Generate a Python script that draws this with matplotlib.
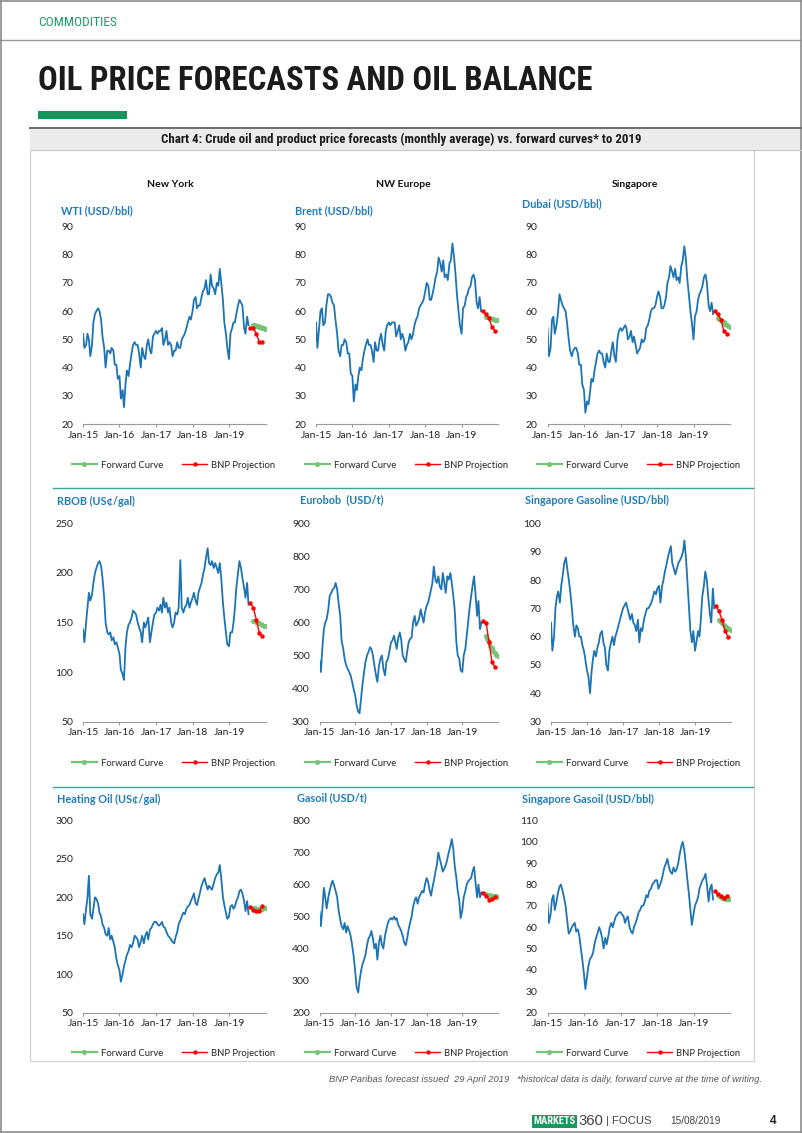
import matplotlib
matplotlib.use('Agg')
import matplotlib.pyplot as plt
from matplotlib.lines import Line2D
from matplotlib.patches import Rectangle
from matplotlib import font_manager as fm
import pandas as pd

# ---------------- data ----------------
hist_dates = pd.date_range('2015-01-01', '2019-07-16', freq='SMS')   # 110 semi-monthly points
bnp_dates = pd.to_datetime(['2019-08-01', '2019-09-01', '2019-10-01', '2019-11-01', '2019-12-01'])
fwd_dates = pd.to_datetime(['2019-09-01', '2019-09-15', '2019-10-01', '2019-10-15', '2019-11-01',
                            '2019-11-15', '2019-12-01', '2019-12-15', '2019-12-31'])

wti = [52, 47, 48, 52, 50, 44, 48, 56, 59, 60, 61, 60, 57, 51, 47, 40, 46, 46, 45, 47, 46, 41, 41, 36,
       37, 29, 32, 26, 34, 39, 37, 41, 45, 48, 49, 48, 48, 45, 40, 47, 44, 43, 48, 50, 46, 45, 51, 52,
       53, 52, 53, 53, 54, 48, 50, 53, 48, 49, 48, 44, 46, 46, 49, 47, 47, 50, 51, 52, 54, 56, 58, 57,
       60, 64, 65, 61, 62, 62, 65, 67, 68, 71, 66, 66, 73, 69, 68, 66, 70, 69, 75, 70, 64, 56, 52, 47,
       43, 52, 54, 56, 56, 59, 62, 64, 63, 62, 54, 52, 58, 55]
wti_fwd = [55.2, 55.0, 54.9, 54.7, 54.5, 54.3, 54.1, 54.0, 53.8]
wti_bnp = [54, 54, 52, 49, 49]

brent = [56, 47, 54, 60, 61, 55, 56, 62, 66, 66, 65, 63, 62, 57, 52, 46, 44, 48, 48, 50, 49, 45, 45, 38,
         37, 28, 34, 32, 37, 40, 39, 43, 46, 48, 50, 48, 48, 46, 42, 49, 46, 46, 50, 52, 48, 46, 53, 55,
         56, 55, 56, 56, 56, 51, 53, 55, 50, 52, 50, 46, 48, 49, 52, 50, 52, 55, 57, 58, 61, 62, 63, 64,
         67, 70, 69, 64, 64, 66, 69, 72, 74, 79, 77, 74, 78, 72, 73, 71, 77, 78, 84, 80, 73, 66, 60, 55,
         52, 61, 62, 65, 66, 68, 69, 72, 73, 71, 63, 61, 65, 60]
brent_fwd = [58.0, 57.8, 57.6, 57.4, 57.2, 57.1, 57.0, 57.0, 57.0]
brent_bnp = [60, 59, 57.5, 54.5, 53]

dubai = [54, 44, 47, 57, 58, 52, 55, 59, 66, 64, 62, 61, 60, 56, 50, 46, 44, 46, 47, 47, 45, 41, 41, 34,
         32, 24, 28, 27, 31, 36, 35, 39, 42, 45, 46, 45, 45, 42, 40, 45, 42, 42, 46, 49, 44, 42, 50, 53,
         54, 53, 54, 55, 54, 50, 51, 53, 49, 51, 48, 45, 46, 47, 50, 49, 50, 54, 55, 57, 60, 61, 61, 62,
         65, 67, 65, 61, 61, 62, 65, 70, 72, 76, 74, 72, 75, 71, 72, 70, 76, 78, 83, 79, 71, 66, 60, 56,
         50, 58, 60, 64, 66, 67, 69, 72, 73, 70, 62, 60, 63, 59]
dubai_fwd = [57.5, 57.2, 56.8, 56.4, 56.0, 55.6, 55.2, 54.8, 54.5]
dubai_bnp = [60, 59, 57, 53, 52]

rbob = [143, 130, 150, 165, 180, 172, 178, 190, 200, 205, 210, 212, 207, 195, 175, 150, 140, 138, 140, 132, 135, 128, 130, 125,
        118, 102, 98, 92, 125, 140, 148, 150, 155, 162, 160, 158, 150, 145, 140, 130, 150, 145, 150, 155, 130, 140, 150, 158,
        160, 165, 162, 168, 160, 175, 165, 170, 160, 165, 150, 145, 150, 160, 158, 165, 213, 165, 160, 165, 168, 175, 165, 170,
        175, 180, 172, 168, 180, 185, 190, 198, 205, 215, 225, 210, 208, 212, 205, 210, 205, 200, 210, 195, 170, 155, 140, 128,
        126, 140, 140, 150, 165, 185, 200, 212, 205, 195, 185, 175, 190, 168]
rbob_fwd = [152, 151.5, 151, 150, 149, 148, 147, 146, 146]
rbob_bnp = [170, 165, 153, 139, 136]

eurobob = [485, 450, 530, 580, 600, 610, 640, 680, 690, 700, 705, 720, 700, 660, 620, 545, 520, 490, 470, 460, 450, 440, 420, 400,
           380, 350, 330, 325, 370, 410, 450, 480, 500, 510, 525, 520, 500, 470, 440, 420, 470, 490, 500, 460, 440, 480, 490, 510,
           540, 545, 560, 540, 520, 550, 570, 550, 500, 490, 480, 510, 540, 550, 555, 600, 620, 590, 600, 610, 640, 620, 600, 630,
           650, 660, 680, 700, 720, 770, 730, 720, 740, 710, 700, 750, 720, 690, 740, 730, 750, 720, 680, 640, 540, 500, 490, 455,
           450, 500, 520, 560, 600, 640, 680, 710, 740, 690, 620, 665, 580, 600]
eurobob_fwd = [560, 550, 540, 530, 522, 515, 508, 503, 500]
eurobob_bnp = [605, 600, 540, 480, 465]

sg_gasoline = [65, 55, 60, 70, 74, 76, 72, 78, 82, 86, 88, 84, 80, 76, 70, 64, 60, 64, 63, 60, 60, 57, 55, 52,
               48, 46, 40, 47, 52, 55, 53, 56, 58, 61, 62, 58, 56, 50, 48, 55, 58, 60, 57, 60, 62, 64, 66, 68,
               70, 71, 72, 70, 68, 66, 68, 65, 64, 62, 66, 58, 63, 62, 66, 68, 70, 70, 71, 72, 74, 76, 75, 77,
               78, 72, 78, 80, 83, 85, 88, 90, 92, 86, 84, 82, 84, 86, 87, 88, 90, 94, 88, 80, 70, 62, 58, 62,
               55, 58, 62, 60, 66, 74, 78, 83, 80, 74, 68, 65, 77, 70]
sg_gasoline_fwd = [66.0, 65.6, 65.0, 64.4, 63.8, 63.3, 62.9, 62.6, 62.3]
sg_gasoline_bnp = [71, 69, 66, 62, 60]

heating_oil = [178, 165, 185, 200, 228, 178, 172, 185, 200, 198, 192, 180, 175, 165, 160, 152, 150, 160, 145, 150, 142, 135, 120, 112,
               105, 90, 100, 110, 118, 125, 130, 138, 135, 140, 150, 148, 145, 135, 142, 150, 140, 150, 155, 145, 158, 160, 165, 168,
               168, 165, 163, 165, 168, 162, 160, 155, 150, 148, 145, 142, 140, 148, 155, 165, 170, 175, 180, 178, 185, 188, 190, 195,
               200, 205, 192, 190, 198, 205, 215, 220, 225, 218, 210, 215, 212, 210, 218, 225, 230, 232, 242, 225, 200, 190, 180, 172,
               175, 188, 190, 185, 188, 195, 200, 208, 210, 205, 195, 182, 195, 178]
heating_oil_fwd = [186, 185.5, 185, 184.5, 184.5, 185, 185, 185.5, 186]
heating_oil_bnp = [187, 184, 182, 182, 189]

gasoil = [515, 470, 530, 590, 560, 525, 560, 580, 600, 612, 595, 580, 560, 520, 490, 470, 460, 480, 450, 470, 455, 440, 410, 380,
          330, 280, 262, 300, 330, 350, 365, 380, 410, 430, 440, 455, 430, 400, 415, 365, 420, 440, 410, 400, 440, 460, 480, 490,
          495, 490, 500, 490, 495, 475, 465, 455, 440, 420, 410, 430, 460, 480, 500, 530, 550, 560, 540, 560, 570, 580, 575, 600,
          620, 610, 580, 565, 590, 610, 640, 660, 700, 680, 660, 640, 650, 660, 680, 700, 720, 742, 710, 660, 620, 580, 550, 495,
          520, 560, 580, 600, 610, 615, 620, 640, 655, 610, 560, 600, 560, 575]
gasoil_fwd = [570, 568, 567, 566, 565, 565, 564, 563, 562]
gasoil_bnp = [575, 565, 553, 555, 562]

sg_gasoil = [71, 62, 66, 73, 75, 68, 72, 76, 79, 80, 77, 74, 70, 64, 57, 58, 60, 61, 62, 58, 59, 56, 50, 45,
             38, 31, 37, 42, 45, 46, 48, 52, 55, 57, 60, 58, 55, 50, 55, 52, 56, 60, 62, 60, 63, 65, 66, 67,
             67, 66, 65, 62, 64, 65, 60, 58, 57, 60, 62, 64, 67, 68, 70, 70, 72, 75, 74, 77, 78, 80, 81, 82,
             82, 78, 80, 82, 85, 88, 90, 92, 88, 86, 85, 88, 86, 87, 90, 94, 98, 100, 96, 90, 82, 76, 68, 61,
             66, 70, 72, 74, 78, 80, 82, 83, 85, 80, 72, 78, 80, 73]
sg_gasoil_fwd = [75, 74.5, 74, 73.8, 73.6, 73.4, 73.2, 73, 73]
sg_gasoil_bnp = [77, 75.5, 74.5, 73.5, 74.5]

titles = ['WTI (USD/bbl)', 'Brent (USD/bbl)', 'Dubai (USD/bbl)',
          'RBOB (US\u00a2/gal)', 'Eurobob  (USD/t)', 'Singapore Gasoline (USD/bbl)',
          'Heating Oil (US\u00a2/gal)', 'Gasoil (USD/t)', 'Singapore Gasoil (USD/bbl)']
regions = ['New York', 'NW Europe', 'Singapore']
xtick_labels = ['Jan-15', 'Jan-16', 'Jan-17', 'Jan-18', 'Jan-19']
legend_labels = ['Forward Curve', 'BNP Projection']
ylims = [(20, 90, 10), (20, 90, 10), (20, 90, 10),
         (50, 250, 50), (300, 900, 100), (30, 100, 10),
         (50, 300, 50), (200, 800, 100), (20, 110, 10)]
series = [(wti, wti_fwd, wti_bnp), (brent, brent_fwd, brent_bnp), (dubai, dubai_fwd, dubai_bnp),
          (rbob, rbob_fwd, rbob_bnp), (eurobob, eurobob_fwd, eurobob_bnp),
          (sg_gasoline, sg_gasoline_fwd, sg_gasoline_bnp),
          (heating_oil, heating_oil_fwd, heating_oil_bnp), (gasoil, gasoil_fwd, gasoil_bnp),
          (sg_gasoil, sg_gasoil_fwd, sg_gasoil_bnp)]

# ---------------- fonts ----------------
_all = fm.fontManager.ttflist
_names = {f.name for f in _all}
NARROW_NAME = None
for cand in ['Liberation Sans Narrow', 'Arial Narrow', 'Roboto Condensed', 'Open Sans Condensed',
             'DejaVu Sans Condensed', 'Noto Sans Condensed']:
    if cand in _names:
        NARROW_NAME = cand
        break
NARROW_STRETCH = 'normal'
if NARROW_NAME is None:
    if any(f.name == 'DejaVu Sans' and f.stretch in ('condensed', 'semi-condensed') for f in _all):
        NARROW_NAME, NARROW_STRETCH = 'DejaVu Sans', 'condensed'
    elif 'Roboto' in _names:
        NARROW_NAME = 'Roboto'
    else:
        NARROW_NAME = 'Liberation Sans'
NARROW = [NARROW_NAME, 'Liberation Sans', 'DejaVu Sans']
SANS = ['Liberation Sans', 'DejaVu Sans']
CAL = ['Lato', 'DejaVu Sans']

BLUE = '#1c74b4'
TEAL_T = '#1f7dba'
GREEN = '#75c577'
RED = '#ff0000'

# ---------------- layout (pixels) ----------------
W, H = 802, 1133
fig = plt.figure(figsize=(W / 100, H / 100), dpi=100)
fig.patch.set_facecolor('white')


def fx(x):
    return x / W


def fy(y):
    return 1 - y / H


boxes = [(83, 226.5, 265.5, 424), (316, 226.5, 498, 424), (547.5, 226.5, 730, 424),
         (83, 523.5, 265.5, 721.5), (319.5, 523.5, 498, 721.5), (551, 523.5, 731, 721.5),
         (83, 820.5, 265.5, 1012.5), (319.5, 820.5, 498, 1012.5), (547.5, 820.5, 730, 1012.5)]
title_pos = [(61, 211), (295, 211), (522, 204),
             (57, 501), (300, 500), (525, 500),
             (57, 799), (297, 797.5), (522, 799.5)]
legend_x = [72, 305, 537]
legend_y = [465, 763, 1053]

xticks = pd.to_datetime(['2015-01-01', '2016-01-01', '2017-01-01', '2018-01-01', '2019-01-01'])

for k in range(9):
    x0, y0, x1, y1 = boxes[k]
    ax = fig.add_axes([fx(x0), fy(y1), (x1 - x0) / W, (y1 - y0) / H])
    hist, fwd, bnp = series[k]
    ax.plot(hist_dates, hist, color=BLUE, lw=1.3)
    lf, = ax.plot(fwd_dates, fwd, color=GREEN, lw=1.6, marker='o', ms=2.6, mec=GREEN, mfc=GREEN)
    lb, = ax.plot(bnp_dates, bnp, color=RED, lw=1.0, marker='o', ms=2.2, mec=RED, mfc=RED)
    lo, hi, st = ylims[k]
    ax.set_ylim(lo, hi)
    ax.set_yticks(range(lo, hi + 1, st))
    ax.set_xlim(pd.Timestamp('2015-01-01'), pd.Timestamp('2020-01-01'))
    ax.set_xticks(xticks)
    ax.set_xticklabels(xtick_labels)
    for s in ['left', 'right', 'top']:
        ax.spines[s].set_visible(False)
    ax.spines['bottom'].set_color('#9a9a9a')
    ax.spines['bottom'].set_linewidth(0.8)
    ax.tick_params(axis='x', length=2.5, width=0.8, color='#9a9a9a', pad=2.5,
                   labelsize=7.5, labelcolor='#262626')
    ax.tick_params(axis='y', length=0, pad=7, labelsize=7.5, labelcolor='#262626')
    for lab in ax.get_xticklabels() + ax.get_yticklabels():
        lab.set_family(CAL)
    ax.patch.set_alpha(0)
    tx, ty = title_pos[k]
    fig.text(fx(tx), fy(ty), titles[k], ha='left', va='center', color=TEAL_T,
             fontsize=7.8, fontweight='bold', family=CAL)
    r, c = divmod(k, 3)
    leg = ax.legend([lf, lb], legend_labels, loc='center left',
                    bbox_to_anchor=(fx(legend_x[c]), fy(legend_y[r])),
                    bbox_transform=fig.transFigure, ncol=2, frameon=False,
                    handlelength=2.6, handletextpad=0.45, columnspacing=2.05,
                    borderpad=0, borderaxespad=0, numpoints=1, prop={'family': CAL, 'size': 6.8})
    for t in leg.get_texts():
        t.set_color('#262626')

for xc, name in zip([170, 403, 635], regions):
    fig.text(fx(xc), fy(184), name, ha='center', va='center', fontsize=7.5,
             fontweight='bold', family=CAL, color='#111111')


# ---------------- page decoration ----------------
def hline(y, xa, xb, color, lw):
    fig.add_artist(Line2D([fx(xa), fx(xb)], [fy(y), fy(y)], transform=fig.transFigure,
                          color=color, lw=lw))


def vline(x, ya, yb, color, lw):
    fig.add_artist(Line2D([fx(x), fx(x)], [fy(ya), fy(yb)], transform=fig.transFigure,
                          color=color, lw=lw))


hline(0.8, 0, 802, '#8c8c8c', 1.2)
hline(39.5, 0, 802, '#9a9a9a', 1.0)
hline(1131.5, 0, 802, '#8c8c8c', 1.2)
vline(0.8, 0, 1133, '#8c8c8c', 1.2)
vline(800.5, 0, 1133, '#8c8c8c', 1.2)

t_comm = fig.text(fx(38), fy(22), 'COMMODITIES', ha='left', va='center', fontsize=9.5,
                  color='#1d9a68', family=NARROW, stretch=NARROW_STRETCH)
t_title = fig.text(fx(38), fy(81), 'OIL PRICE FORECASTS AND OIL BALANCE', ha='left', va='center',
                   fontsize=25, fontweight='bold', color='#1b1b1b', family=NARROW, stretch=NARROW_STRETCH)
fig.add_artist(Rectangle((fx(38), fy(118.5)), (127 - 38) / W, 7.5 / H, transform=fig.transFigure,
                         facecolor='#11955a', edgecolor='none'))

fig.add_artist(Rectangle((fx(30), fy(150)), (801 - 30) / W, 22 / H, transform=fig.transFigure,
                         facecolor='#ebebeb', edgecolor='none'))
hline(128.3, 30, 801, '#6d6d6d', 1.4)
hline(150, 30, 801, '#c8c8c8', 0.8)
t_cap = fig.text(fx(401.5), fy(139.5),
                 'Chart 4: Crude oil and product price forecasts (monthly average) vs. forward curves* to 2019',
                 ha='center', va='center', fontsize=9.5, fontweight='bold', color='#1b1b1b',
                 family=NARROW, stretch=NARROW_STRETCH)

vline(30.5, 150, 1061, '#cfcfcf', 0.8)
vline(753.5, 150, 1061, '#cfcfcf', 0.8)
hline(1061, 30, 754, '#cfcfcf', 0.8)

hline(487.5, 53, 753, '#3aa59a', 1.0)
hline(786.5, 53, 753, '#3aa59a', 1.0)

t_foot = fig.text(fx(329), fy(1080),
                  'BNP Paribas forecast issued  29 April 2019   *historical data is daily, forward curve at the time of writing.',
                  ha='left', va='center', fontsize=6.8, style='italic', color='#555555', family=SANS)

fig.add_artist(Rectangle((fx(532), fy(1127.5)), 45 / W, 12.5 / H, transform=fig.transFigure,
                         facecolor='#139a5e', edgecolor='none'))
t_mk = fig.text(fx(554.5), fy(1121.3), 'MARKETS', ha='center', va='center', fontsize=7.6,
                fontweight='bold', color='white', family=NARROW, stretch=NARROW_STRETCH)
t_360 = fig.text(fx(578.5), fy(1121.3), '360', ha='left', va='center', fontsize=9.5,
                 color='#444444', family=SANS)
t_focus = fig.text(fx(606.5), fy(1121.3), '| FOCUS', ha='left', va='center', fontsize=8.3,
                   color='#444444', family=SANS)
t_date = fig.text(fx(670), fy(1121.3), '15/08/2019', ha='left', va='center', fontsize=8.3,
                  color='#444444', family=SANS)
fig.text(fx(773), fy(1121.3), '4', ha='center', va='center', fontsize=8.5,
         fontweight='bold', color='#222222', family=SANS)

# fit a few page texts to the widths measured on the reference page
fig.canvas.draw()
renderer = fig.canvas.get_renderer()
for t, target in [(t_comm, 79), (t_title, 555), (t_cap, 479), (t_foot, 432),
                  (t_mk, 42), (t_360, 25), (t_focus, 46), (t_date, 50)]:
    w = t.get_window_extent(renderer).width
    if w > 0:
        t.set_fontsize(t.get_fontsize() * target / w)

fig.savefig('out.png', dpi=100)
